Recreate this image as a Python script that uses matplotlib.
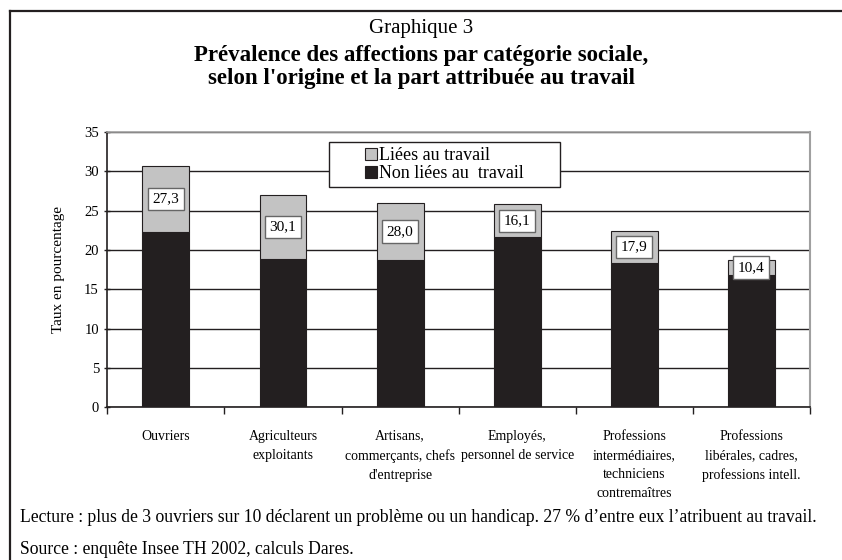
import matplotlib
matplotlib.use("Agg")
import matplotlib.pyplot as plt
from matplotlib.patches import Patch, Rectangle
from matplotlib.lines import Line2D
import numpy as np

categories = ["Ouvriers", "Agriculteurs\nexploitants", "Artisans,\ncommerçants, chefs\nd'entreprise",
              "Employés,\npersonnel de service", "Professions\nintermédiaires,\ntechniciens\ncontremaîtres",
              "Professions\nlibérales, cadres,\nprofessions intell."]
non_work = [22.3, 18.9, 18.7, 21.6, 18.4, 16.8]
work = [8.4, 8.1, 7.3, 4.2, 4.0, 1.95]
share_labels = ["27,3", "30,1", "28,0", "16,1", "17,9", "10,4"]
yticks = [0, 5, 10, 15, 20, 25, 30, 35]

plt.rcParams['font.family'] = ['Liberation Serif', 'DejaVu Serif']

W, H = 842, 560
fig = plt.figure(figsize=(W / 100, H / 100), dpi=100)
ax = fig.add_axes([107.3 / W, 1 - 407.3 / H, (810 - 107.3) / W, (407.3 - 132) / H])

x = np.arange(len(categories))
black = '#231f20'
grey = '#c3c3c3'
ax.bar(x, non_work, width=0.4, color=black, edgecolor=black, linewidth=0.8, zorder=3)
ax.bar(x, work, width=0.4, bottom=non_work, color=grey, edgecolor=black, linewidth=0.8, zorder=3)

for xi, nw, w, lab in zip(x, non_work, work, share_labels):
    ax.text(xi, nw + w / 2, lab, ha='center', va='center', fontsize=11, zorder=5,
            bbox=dict(boxstyle='square,pad=0.3', facecolor='white', edgecolor='#666666', linewidth=1.0))

ax.set_xlim(-0.5, len(categories) - 0.5)
ax.set_ylim(0, 35)
ax.set_yticks(yticks)
ax.set_yticklabels([str(v) for v in yticks], fontsize=10.5)
ax.yaxis.grid(True, color=black, linewidth=1.0, zorder=0)
ax.set_axisbelow(True)

ax.set_xticks(x)
ax.set_xticklabels(categories, fontsize=10, linespacing=1.62, va='top')
ax.tick_params(axis='x', which='major', length=0, pad=16)
ax.set_xticks(np.arange(-0.5, len(categories), 1.0), minor=True)
ax.tick_params(axis='x', which='minor', length=5, direction='out', width=1, color=black)
ax.tick_params(axis='y', length=5, direction='inout', width=1, color=black)

ax.spines['left'].set_color(black)
ax.spines['bottom'].set_color(black)
ax.spines['left'].set_linewidth(1.2)
ax.spines['bottom'].set_linewidth(1.2)
ax.spines['top'].set_color('#a0a0a0')
ax.spines['right'].set_color('#a0a0a0')
ax.spines['top'].set_linewidth(1.2)
ax.spines['right'].set_linewidth(1.5)

ax.set_ylabel("Taux en pourcentage", fontsize=11, labelpad=14)

# legend box
fig.add_artist(Rectangle((329 / W, 1 - 187.3 / H), (560 - 329) / W, (187.3 - 141.7) / H,
                         transform=fig.transFigure, facecolor='white', edgecolor=black,
                         linewidth=1.0, zorder=4))
handles = [Patch(facecolor=grey, edgecolor=black, linewidth=0.8, label="Liées au travail"),
           Patch(facecolor=black, edgecolor=black, linewidth=0.8, label="Non liées au  travail")]
leg = fig.legend(handles=handles, loc='center left', bbox_to_anchor=(365 / W, 1 - 164.5 / H),
                 fontsize=13, frameon=False, handlelength=0.65, handleheight=0.65,
                 handletextpad=0.15, borderpad=0.0, labelspacing=0.05, borderaxespad=0)
leg.set_zorder(5)

fig.text(0.5, 1 - 29 / H, "Graphique 3", ha='center', va='center', fontsize=15)
fig.text(0.5, 1 - 67 / H, "Prévalence des affections par catégorie sociale,\nselon l'origine et la part attribuée au travail",
         ha='center', va='center', fontsize=16.5, fontweight='bold', linespacing=1.1)

fig.text(20 / W, 1 - 518 / H, "Lecture : plus de 3 ouvriers sur 10 déclarent un problème ou un handicap. 27 % d\u2019entre eux l\u2019atribuent au travail.",
         ha='left', va='center', fontsize=12.7)
fig.text(20 / W, 1 - 550 / H, "Source : enquête Insee TH 2002, calculs Dares.",
         ha='left', va='center', fontsize=12.7)

fig.add_artist(Line2D([10 / W, 1.0], [1 - 11 / H, 1 - 11 / H], color=black, linewidth=1.6, transform=fig.transFigure))
fig.add_artist(Line2D([10 / W, 10 / W], [1 - 11 / H, 0.0], color=black, linewidth=1.6, transform=fig.transFigure))

fig.savefig("out.png", dpi=100)
